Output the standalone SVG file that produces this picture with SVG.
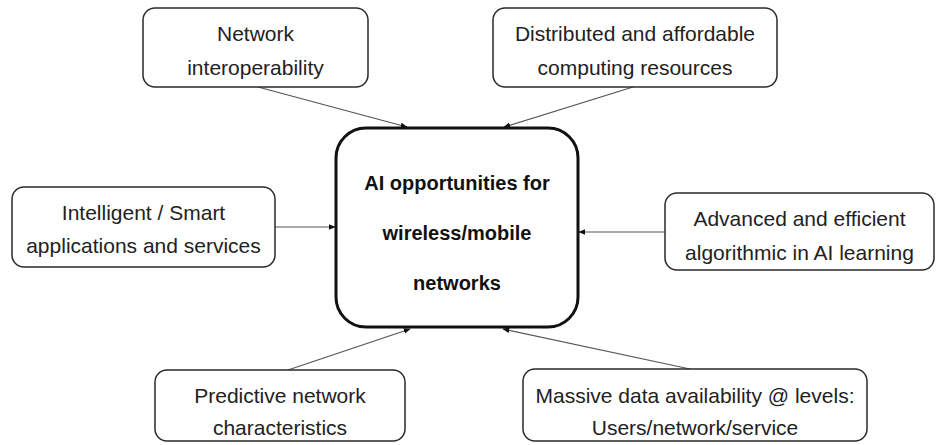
<svg xmlns="http://www.w3.org/2000/svg" width="936" height="445" viewBox="0 0 936 445">
<style>
.box{fill:#fff;stroke:#2a2a2a;stroke-width:1.5}
.center{fill:#fff;stroke:#111;stroke-width:3}
.t{font-family:"Liberation Sans",Arial,sans-serif;font-size:21px;fill:#222;text-anchor:middle;dominant-baseline:central}
.tb{font-family:"Liberation Sans",Arial,sans-serif;font-size:20px;font-weight:bold;fill:#111;text-anchor:middle;dominant-baseline:central}
.c{stroke:#555;stroke-width:1.2;fill:none;marker-end:url(#ah)}
</style>
<defs>
<marker id="ah" viewBox="0 0 10 10" refX="9" refY="5" markerWidth="7" markerHeight="7" markerUnits="userSpaceOnUse" orient="auto">
<path d="M0,1 L10,5 L0,9 Z" fill="#111"/>
</marker>
</defs>
<rect width="936" height="445" fill="#fff"/>
<g id="connectors">
<line class="c" x1="258" y1="87" x2="407" y2="127"/>
<line class="c" x1="633" y1="87" x2="504" y2="127"/>
<line class="c" x1="275" y1="227" x2="335" y2="227"/>
<line class="c" x1="665" y1="232" x2="579" y2="232"/>
<line class="c" x1="288" y1="370" x2="410" y2="329"/>
<line class="c" x1="690" y1="369" x2="503" y2="329"/>
</g>
<g id="center">
<rect class="center" x="336" y="128" width="242" height="199" rx="30"/>
<text class="tb" x="457" y="183">AI opportunities for</text>
<text class="tb" x="457" y="233">wireless/mobile</text>
<text class="tb" x="457" y="283">networks</text>
</g>
<g id="n1">
<rect class="box" x="143" y="8" width="225" height="79" rx="12"/>
<text class="t" x="255.5" y="33">Network</text>
<text class="t" x="255.5" y="67">interoperability</text>
</g>
<g id="n2">
<rect class="box" x="493" y="8" width="284" height="79" rx="12"/>
<text class="t" x="635" y="33">Distributed and affordable</text>
<text class="t" x="635" y="67">computing resources</text>
</g>
<g id="n3">
<rect class="box" x="12" y="187" width="263" height="80" rx="12"/>
<text class="t" x="143.5" y="212">Intelligent / Smart</text>
<text class="t" x="143.5" y="245">applications and services</text>
</g>
<g id="n4">
<rect class="box" x="665" y="193" width="269" height="77" rx="12"/>
<text class="t" x="799.5" y="218">Advanced and efficient</text>
<text class="t" x="799.5" y="252">algorithmic in AI learning</text>
</g>
<g id="n5">
<rect class="box" x="155" y="370" width="250" height="71" rx="12"/>
<text class="t" x="280" y="395">Predictive network</text>
<text class="t" x="280" y="427">characteristics</text>
</g>
<g id="n6">
<rect class="box" x="523" y="369" width="344" height="72" rx="12"/>
<text class="t" x="695" y="395">Massive data availability @ levels:</text>
<text class="t" x="695" y="427">Users/network/service</text>
</g>
</svg>
